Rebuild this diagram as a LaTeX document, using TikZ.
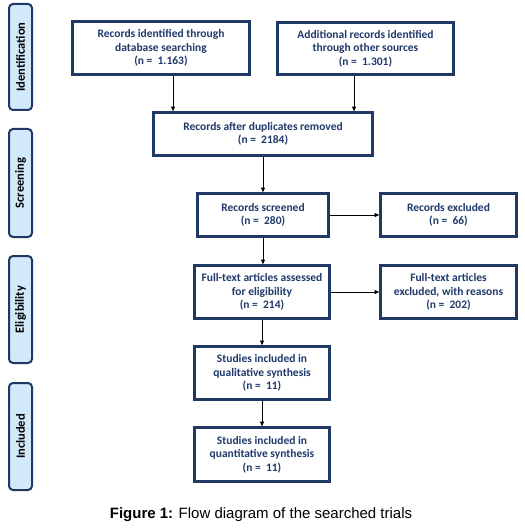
\documentclass[tikz,border=0pt]{standalone}
\usepackage{fontspec}
\setmainfont{Carlito}
\newfontfamily\capfont{Liberation Sans}
\usetikzlibrary{arrows.meta}
\definecolor{navy}{HTML}{1F3864}
\definecolor{txtnavy}{HTML}{1F3A6B}
\definecolor{sidefill}{HTML}{D2E9FB}
\begin{document}
\begin{tikzpicture}[x=1pt,y=-1pt,
  box/.style={draw=navy, line width=2.6pt, fill=white, align=center, text=txtnavy,
    font=\fontsize{11.5}{13.5}\selectfont\bfseries, inner sep=0pt},
  side/.style={draw=navy, line width=2pt, fill=sidefill, rounded corners=4pt,
    minimum height=23pt, rotate=90, inner sep=0pt,
    font=\fontsize{12.5}{14}\selectfont\bfseries},
  arr/.style={-{Triangle[length=4.5pt,width=4pt]}, line width=0.7pt}]
\useasboundingbox (0,0) rectangle (524,529);
% phase bars
\node[side, minimum width=106pt] (s1) at (20.5,57) {Identification};
\node[side, minimum width=108pt] (s2) at (20.5,183) {Screening};
\node[side, minimum width=107pt] (s3) at (20.5,309.5) {Eligibility};
\node[side, minimum width=107pt] (s4) at (20.5,436.5) {Included};
% boxes
\node[box, minimum width=177pt, minimum height=53pt] (A) at (161,48) {Records identified through\\database searching\\(n =\ \ 1.163)};
\node[box, minimum width=176pt, minimum height=52pt] (B) at (365.5,48.5) {Additional records identified\\through other sources\\(n =\ \ 1.301)};
\node[box, minimum width=219pt, minimum height=43pt] (C) at (263,134) {Records after duplicates removed\\(n =\ \ 2184)};
\node[box, minimum width=131pt, minimum height=43pt] (S) at (263,215) {Records screened\\(n =\ \ 280)};
\node[box, minimum width=136pt, minimum height=43pt] (X1) at (448.5,215) {Records excluded\\(n =\ \ 66)};
\node[box, minimum width=135pt, minimum height=53pt] (F) at (262,292) {Full-text articles assessed\\for eligibility\\(n =\ \ 214)};
\node[box, minimum width=136pt, minimum height=53pt] (X2) at (448.5,292) {Full-text articles\\excluded, with reasons\\(n =\ \ 202)};
\node[box, minimum width=135pt, minimum height=53pt] (Q1) at (262,373) {Studies included in\\qualitative synthesis\\(n =\ \ 11)};
\node[box, minimum width=135pt, minimum height=54pt] (Q2) at (262,454.5) {Studies included in\\quantitative synthesis\\(n =\ \ 11)};
% arrows
\draw[arr] ([xshift=12pt]A.south) -- ([xshift=12pt]A.south |- C.north);
\draw[arr] ([xshift=-11.5pt]B.south) -- ([xshift=-11.5pt]B.south |- C.north);
\draw[arr] (C.south) -- (C.south |- S.north);
\draw[arr] (S.east) -- (S.east -| X1.west);
\draw[arr] (S.south) -- (S.south |- F.north);
\draw[arr] (F.east |- X2.west) -- (X2.west);
\draw[arr] (F.south) -- (F.south |- Q1.north);
\draw[arr] (Q1.south) -- (Q1.south |- Q2.north);
% caption
\node[font=\capfont\fontsize{15}{17}\selectfont, inner sep=0pt] (cap) at (261,515) {\textbf{Figure 1:} Flow diagram of the searched trials};
\end{tikzpicture}
\end{document}
